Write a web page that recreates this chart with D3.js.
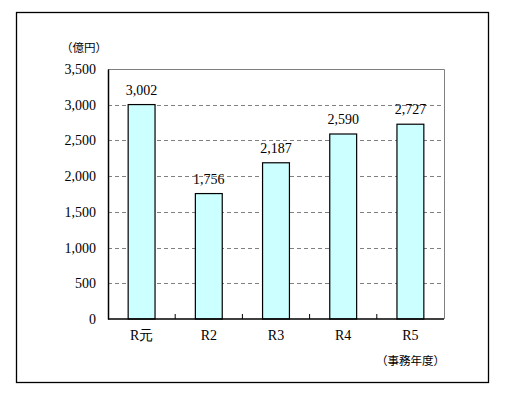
<!DOCTYPE html>
<html>
<head>
<meta charset="utf-8">
<script src="https://cdn.jsdelivr.net/npm/d3@7"></script>
<style>
  body { margin: 0; background: #fff; }
  svg { display: block; }
</style>
</head>
<body>
<svg id="canvas" width="505" height="397"></svg>
<script>
// data
let years = ['R元', 'R2', 'R3', 'R4', 'R5'];
let amounts = [3002, 1756, 2187, 2590, 2727];
let yTicks = [0, 500, 1000, 1500, 2000, 2500, 3000, 3500];

let serifFont = "'Liberation Serif', 'Times New Roman', Times, serif";
let gothicFont = "'Noto Sans CJK JP', sans-serif";

let canvas = d3.select('#canvas');

let plotLeft = 108, plotRight = 444, plotTop = 69, plotBottom = 319;

// outer frame
canvas.append('rect')
    .attr('x', 16.5).attr('y', 12.5)
    .attr('width', 472).attr('height', 370)
    .attr('fill', 'none')
    .attr('stroke', '#000')
    .attr('stroke-width', 1.3);

let xScale = d3.scaleBand()
    .domain(years)
    .range([plotLeft, plotRight])
    .paddingInner(0.6)
    .paddingOuter(0.3);

let yScale = d3.scaleLinear()
    .domain([0, 3500])
    .range([plotBottom, plotTop]);

// plot area border (top / right grey)
canvas.append('path')
    .attr('d', `M${plotLeft},${plotTop + 0.5}H${plotRight + 0.5}V${plotBottom}`)
    .attr('fill', 'none')
    .attr('stroke', '#808080')
    .attr('stroke-width', 1);

// dashed gridlines
canvas.selectAll('.grid')
    .data(yTicks.filter(t => t > 0 && t < 3500))
    .enter()
    .append('line')
    .attr('class', 'grid')
    .attr('x1', plotLeft).attr('x2', plotRight)
    .attr('y1', d => Math.round(yScale(d)) + 0.5)
    .attr('y2', d => Math.round(yScale(d)) + 0.5)
    .attr('stroke', '#808080')
    .attr('stroke-dasharray', '4,3');

// bars
canvas.selectAll('.bar')
    .data(amounts)
    .enter()
    .append('rect')
    .attr('class', 'bar')
    .attr('x', (d, i) => xScale(years[i]))
    .attr('y', d => yScale(d))
    .attr('width', xScale.bandwidth())
    .attr('height', d => plotBottom - yScale(d))
    .attr('fill', '#ccffff')
    .attr('stroke', '#000')
    .attr('stroke-width', 1.2);

// value labels
canvas.selectAll('.val')
    .data(amounts)
    .enter()
    .append('text')
    .attr('class', 'val')
    .attr('x', (d, i) => xScale(years[i]) + xScale.bandwidth() / 2)
    .attr('y', d => yScale(d) - 10)
    .attr('text-anchor', 'middle')
    .style('font-family', serifFont)
    .style('font-size', '14px')
    .attr('fill', '#000')
    .text(d => d3.format(',')(d));

// y axis
let yAxis = d3.axisLeft(yScale)
    .tickValues(yTicks)
    .tickFormat(d3.format(','))
    .tickSize(0)
    .tickPadding(12);

let yG = canvas.append('g')
    .attr('transform', `translate(${plotLeft},0)`)
    .call(yAxis);
yG.select('.domain').attr('stroke', '#000').attr('stroke-width', 1.5);
yG.selectAll('text')
    .style('font-family', serifFont)
    .style('font-size', '14px')
    .attr('fill', '#000');

// x axis: ticks at category boundaries pointing up
let xG = canvas.append('g');
xG.append('line')
    .attr('x1', plotLeft).attr('x2', plotRight)
    .attr('y1', plotBottom).attr('y2', plotBottom)
    .attr('stroke', '#000').attr('stroke-width', 1.5);
xG.selectAll('.xtick')
    .data(d3.range(1, years.length))
    .enter()
    .append('line')
    .attr('class', 'xtick')
    .attr('x1', i => plotLeft + i * xScale.step())
    .attr('x2', i => plotLeft + i * xScale.step())
    .attr('y1', plotBottom).attr('y2', plotBottom - 5)
    .attr('stroke', '#000').attr('stroke-width', 1);
xG.selectAll('.xlab')
    .data(years)
    .enter()
    .append('text')
    .attr('class', 'xlab')
    .attr('x', d => xScale(d) + xScale.bandwidth() / 2)
    .attr('y', 340)
    .attr('text-anchor', 'middle')
    .style('font-family', serifFont)
    .style('font-size', '14px')
    .attr('fill', '#000')
    .text(d => d);

// unit labels
canvas.append('text')
    .attr('x', 61).attr('y', 52)
    .style('font-family', gothicFont)
    .style('font-size', '11.5px')
    .attr('fill', '#000')
    .text('（億円）');

canvas.append('text')
    .attr('x', 445).attr('y', 365)
    .attr('text-anchor', 'end')
    .style('font-family', gothicFont)
    .style('font-size', '11.5px')
    .attr('fill', '#000')
    .text('（事務年度）');
</script>
</body>
</html>
